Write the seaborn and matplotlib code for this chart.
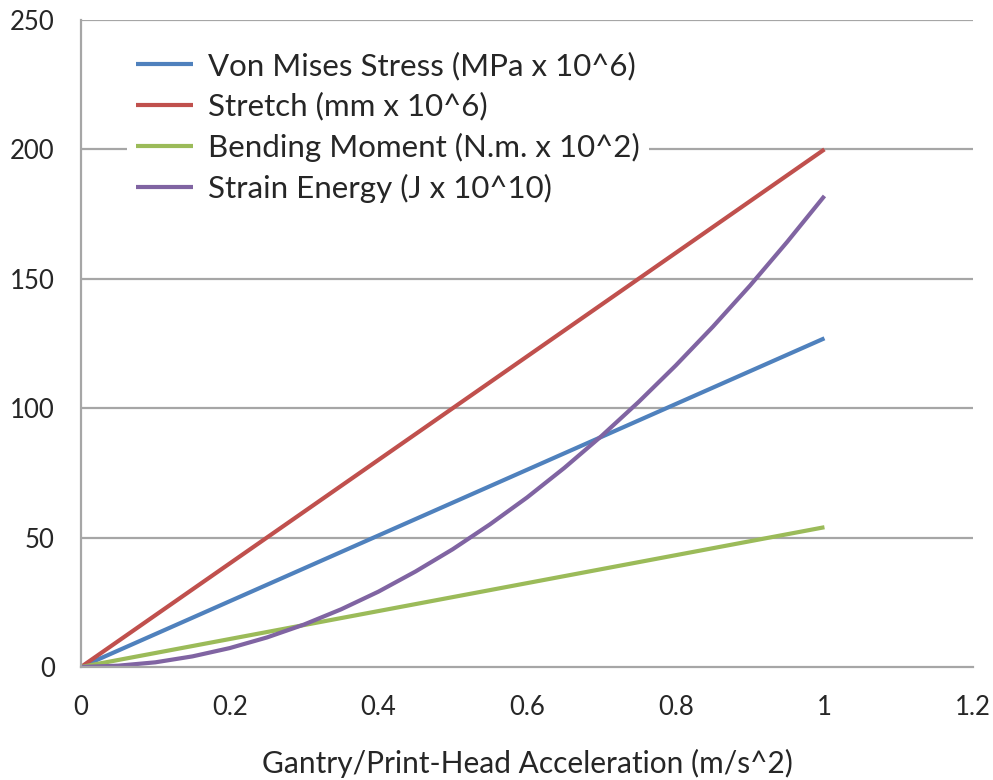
import matplotlib
matplotlib.use("Agg")
import matplotlib.pyplot as plt
import seaborn as sns
import pandas as pd

# Gantry / print-head acceleration (m/s^2)
acceleration = [0.0, 0.1, 0.2, 0.3, 0.4, 0.5, 0.6, 0.7, 0.8, 0.9, 1.0]
acceleration_fine = [0.0, 0.05, 0.1, 0.15, 0.2, 0.25, 0.3, 0.35, 0.4, 0.45, 0.5,
                     0.55, 0.6, 0.65, 0.7, 0.75, 0.8, 0.85, 0.9, 0.95, 1.0]

von_mises = [0.0, 12.7, 25.4, 38.1, 50.8, 63.5, 76.2, 88.9, 101.6, 114.3, 127.0]
stretch = [0.0, 20.0, 40.0, 60.0, 80.0, 100.0, 120.0, 140.0, 160.0, 180.0, 200.0]
bending = [0.0, 5.4, 10.8, 16.2, 21.6, 27.0, 32.4, 37.8, 43.2, 48.6, 54.0]
strain_energy = [0.0, 0.5, 1.8, 4.1, 7.3, 11.4, 16.4, 22.3, 29.1, 36.9, 45.5,
                 55.1, 65.5, 76.9, 89.2, 102.4, 116.5, 131.5, 147.4, 164.3, 182.0]

series_names = [
    "Von Mises Stress (MPa x 10^6)",
    "Stretch (mm x 10^6)",
    "Bending Moment (N.m. x 10^2)",
    "Strain Energy (J x 10^10)",
]
series_colors = ["#4F81BD", "#C0504D", "#9BBB59", "#8064A2"]

x_ticks = [0, 0.2, 0.4, 0.6, 0.8, 1, 1.2]
x_tick_labels = ["0", "0.2", "0.4", "0.6", "0.8", "1", "1.2"]
y_ticks = [0, 50, 100, 150, 200, 250]

series_x = [acceleration, acceleration, acceleration, acceleration_fine]
series_y = [von_mises, stretch, bending, strain_energy]
frames = []
for name, xs, ys in zip(series_names, series_x, series_y):
    frames.append(pd.DataFrame({"a": xs, "v": ys, "series": name}))
df = pd.concat(frames, ignore_index=True)

sns.set_style("white")
plt.rcParams["font.family"] = ["Lato", "DejaVu Sans"]

fig = plt.figure(figsize=(9.93, 7.80), dpi=100)
ax = fig.add_axes([0.0816, 0.1449, 0.8984, 0.8295])

grid_color = "#A6A6A6"
text_color = "#262626"
for y in y_ticks[1:]:
    ax.axhline(y, color=grid_color, lw=1.6, zorder=0)

sns.lineplot(
    data=df, x="a", y="v", hue="series", hue_order=series_names,
    palette=series_colors, linewidth=3.0, ax=ax, legend=True,
    solid_capstyle="butt", sort=False,
)

ax.set_xlim(0, 1.2)
ax.set_ylim(0, 250)
ax.set_xticks(x_ticks)
ax.set_xticklabels(x_tick_labels)
ax.set_yticks(y_ticks)
ax.set_yticklabels([str(v) for v in y_ticks])

for side in ["top", "right"]:
    ax.spines[side].set_visible(False)
for side in ["left", "bottom"]:
    ax.spines[side].set_color(grid_color)
    ax.spines[side].set_linewidth(1.6)

ax.tick_params(axis="both", which="major", direction="out", length=6,
               width=1.4, color=grid_color, labelsize=18.5, labelcolor=text_color)
ax.tick_params(axis="x", pad=14)
ax.tick_params(axis="y", pad=13)

ax.set_xlabel("Gantry/Print-Head Acceleration (m/s^2)", fontsize=21.5,
              color=text_color, labelpad=21)
ax.set_ylabel("")

handles, labels = ax.get_legend_handles_labels()
leg = ax.legend(
    handles, labels, loc="upper left", bbox_to_anchor=(0.0516, 0.966),
    frameon=True, facecolor="white", edgecolor="none", framealpha=1.0,
    fontsize=22.5, handlelength=1.8, handletextpad=0.5, labelspacing=0.38,
    borderpad=0.3, borderaxespad=0.0,
)
for t in leg.get_texts():
    t.set_color(text_color)
for h in leg.get_lines():
    h.set_linewidth(3.0)

fig.savefig("out.png", dpi=100)
